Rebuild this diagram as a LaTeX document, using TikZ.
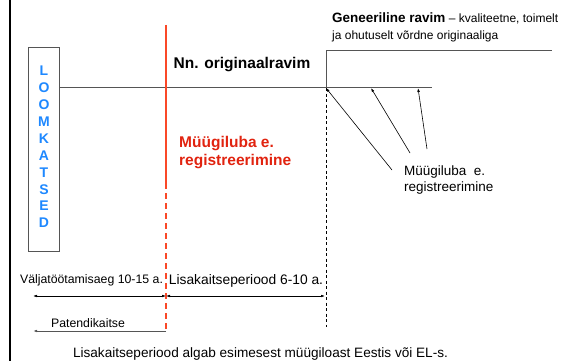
\documentclass[tikz,border=0pt]{standalone}
\usepackage{fontspec}
\setmainfont{Liberation Sans}
\usetikzlibrary{arrows.meta}
\definecolor{regred}{RGB}{225,35,15}
\definecolor{redline}{RGB}{250,72,40}
\definecolor{loomblue}{RGB}{30,136,255}
\definecolor{linegray}{RGB}{85,85,85}
\tikzset{
  txt/.style={inner sep=0pt, align=left},
  letter/.style={inner sep=0pt, text=loomblue, font=\fontsize{14}{16}\selectfont\bfseries},
  tip/.style={-{Latex[length=4pt,width=2.6pt]}},
  dimline/.style={{Latex[length=4pt,width=2.6pt]}-{Latex[length=4pt,width=2.6pt]}},
}
\begin{document}
\begin{tikzpicture}[x=1pt,y=-1pt]
      \useasboundingbox (0,0) rectangle (570,361);
      \draw[line width=2pt] (9.5,0) -- (9.5,361);
      \node[draw=linegray, line width=0.8pt, minimum width=31pt, minimum height=204pt, inner sep=0pt] (loom) at (44,149) {};
      \foreach \l [count=\i] in {L,O,O,M,K,A,T,S,E,D}
        \node[letter] (l\i) at (44,54+16.9*\i) {\l};
      \draw
        (59.5,87) coordinate (orig0)
        (432,87) coordinate (orig1)
        (326,87) coordinate (gen0)
        (326,50.5) coordinate (gen1)
        (552,50.5) coordinate (gen2)
        (166,25) coordinate (red0)
        (166,183) coordinate (red1)
        (166,330) coordinate (red2)
        (326,88) coordinate (dash0)
        (326,327) coordinate (dash1)
        (33,296) coordinate (d0)
        (166,296) coordinate (d1)
        (325,296) coordinate (d2)
        (166,331) coordinate (p0)
        (33,331) coordinate (p1)
        (326,88) coordinate (t1)
        (371,88) coordinate (t2)
        (418,88) coordinate (t3)
        (392,170) coordinate (s1)
        (410,153) coordinate (s2)
        (427,149) coordinate (s3);
      \draw
        (242,65) node[txt, font=\fontsize{15.5}{18}\selectfont\bfseries] (orig) {Nn. originaalravim}
        (179,153) node[txt, anchor=west, text=regred, font=\fontsize{15.5}{18}\selectfont\bfseries] (regred) {Müügiluba e.\\registreerimine}
        (332,13) node[txt, anchor=north west, font=\fontsize{12}{16.5}\selectfont] (gen) {{\fontsize{13.5}{16.5}\selectfont\bfseries Geneeriline ravim} – kvaliteetne, toimelt\\ja ohutuselt võrdne originaaliga}
        (404,166) node[txt, anchor=north west, font=\fontsize{13.5}{15.5}\selectfont] (reg) {Müügiluba\ \ e.\\registreerimine}
        (91.5,280) node[txt, font=\fontsize{12.3}{14}\selectfont] (devtime) {Väljatöötamisaeg 10-15 a.}
        (246,281) node[txt, font=\fontsize{13.8}{16}\selectfont] (extra) {Lisakaitseperiood 6-10 a.}
        (88,323) node[txt, font=\fontsize{12.3}{14}\selectfont] (patent) {Patendikaitse}
        (260.5,354) node[txt, font=\fontsize{13.6}{16}\selectfont] (note) {Lisakaitseperiood algab esimesest müügiloast Eestis või EL-s.};
      \begin{scope}[linegray, line width=0.9pt]
        \draw (orig0) to (orig1);
        \draw (gen0) to (gen1) to (gen2);
      \end{scope}
      \begin{scope}[redline, line width=1.3pt]
        \draw (red0) to (red1);
        \draw[dash pattern=on 6pt off 4pt] (red1) to (red2);
      \end{scope}
      \draw[black, line width=0.6pt, dash pattern=on 3pt off 2.5pt] (dash0) to (dash1);
      \begin{scope}[black, line width=0.6pt]
        \draw[tip] (s1) to (t1);
        \draw[tip] (s2) to (t2);
        \draw[tip] (s3) to (t3);
        \draw[dimline] (d0) to (d1);
        \draw[dimline] (d1) to (d2);
      \end{scope}
      \draw[tip, linegray, line width=1pt] (p0) to (p1);
    \end{tikzpicture}
\end{document}
